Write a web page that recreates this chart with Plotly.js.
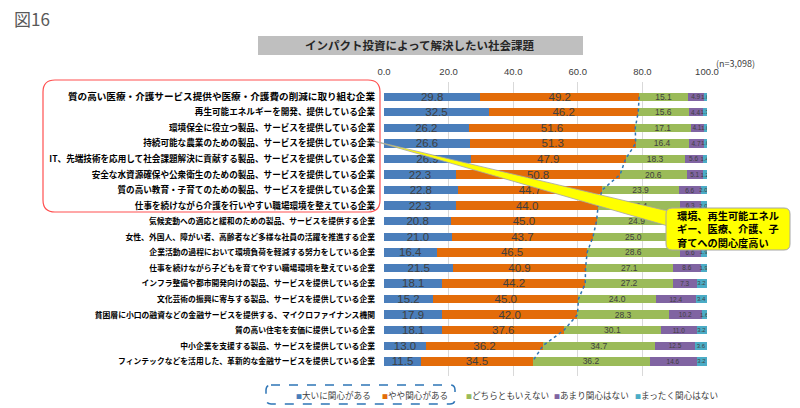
<!DOCTYPE html>
<html>
<head>
<meta charset="utf-8">
<script src="https://cdn.plot.ly/plotly-3.0.1.min.js"></script>
<style>
html,body{margin:0;padding:0;background:#fff;}
#chart{width:800px;height:408px;}
</style>
</head>
<body>
<div id="chart"></div>
<script>
// ---- data ----
const categories = [
  "質の高い医療・介護サービス提供や医療・介護費の削減に取り組む企業",
  "再生可能エネルギーを開発、提供している企業",
  "環境保全に役立つ製品、サービスを提供している企業",
  "持続可能な農業のための製品、サービスを提供している企業",
  "IT、先端技術を応用して社会課題解決に貢献する製品、サービスを提供している企業",
  "安全な水資源確保や公衆衛生のための製品、サービスを提供している企業",
  "質の高い教育・子育てのための製品、サービスを提供している企業",
  "仕事を続けながら介護を行いやすい職場環境を整えている企業",
  "気候変動への適応と緩和のための製品、サービスを提供する企業",
  "女性、外国人、障がい者、高齢者など多様な社員の活躍を推進する企業",
  "企業活動の過程において環境負荷を軽減する努力をしている企業",
  "仕事を続けながら子どもを育てやすい職場環境を整えている企業",
  "インフラ整備や都市開発向けの製品、サービスを提供している企業",
  "文化芸術の振興に寄与する製品、サービスを提供している企業",
  "貧困層に小口の融資などの金融サービスを提供する、マイクロファイナンス機関",
  "質の高い住宅を安価に提供している企業",
  "中小企業を支援する製品、サービスを提供している企業",
  "フィンテックなどを活用した、革新的な金融サービスを提供している企業"
];
const seriesNames = ["大いに関心がある","やや関心がある","どちらともいえない","あまり関心はない","まったく関心はない"];
const veryInterested     = [29.8,32.5,26.2,26.6,26.9,22.3,22.8,22.3,20.8,21.0,16.4,21.5,18.1,15.2,17.9,18.1,13.0,11.5];
const somewhatInterested = [49.2,46.2,51.6,51.3,47.9,50.8,44.7,44.0,45.0,43.7,46.5,40.9,44.2,45.0,42.0,37.6,36.2,34.5];
const neutral            = [15.1,15.6,17.1,16.4,18.3,20.6,23.9,25.4,24.9,25.0,28.6,27.1,27.2,24.0,28.3,30.1,34.7,36.2];
const notMuch            = [4.9,4.4,4.1,4.7,5.6,5.1,6.6,6.3,7.2,8.2,6.6,8.6,7.3,12.4,10.2,11.0,12.5,14.6];
const notAtAll           = [1.0,1.3,1.0,1.0,1.4,1.2,2.0,2.0,2.1,2.1,1.9,1.9,3.2,3.4,1.6,3.2,3.6,3.2];
const xTicks = [0,20,40,60,80,100];
const chartTitle = "インパクト投資によって解決したい社会課題";
const figLabel = "図16";
const nLabel = "(n=3,098)";
const calloutLines = ["環境、再生可能エネル","ギー、医療、介護、子","育てへの関心度高い"];
// rows whose right-hand labels sit under the callout box
const rowsUnderCallout = [8, 9];

// ---- styles ----
const colors = ["#4a7ebb","#e36c09","#9bbb59","#8064a2","#4bacc6"];
const textSizes = [11.5,11.5,8.5,6.5,6];
const JP = '"Noto Sans CJK JP", "Noto Sans", sans-serif';
const L = 384, R = 93, T = 82, B = 32, W = 800, H = 408;
const PW = W - L - R, PH = H - T - B;
const px = x => (x - L) / PW;
const py = y => (H - B - y) / PH;

function roundRect(x0, y0, x1, y1, r) {
  const P = (x, y) => px(x) + ',' + py(y);
  return 'M' + P(x0 + r, y0) + ' L' + P(x1 - r, y0) + ' Q' + P(x1, y0) + ' ' + P(x1, y0 + r) +
    ' L' + P(x1, y1 - r) + ' Q' + P(x1, y1) + ' ' + P(x1 - r, y1) +
    ' L' + P(x0 + r, y1) + ' Q' + P(x0, y1) + ' ' + P(x0, y1 - r) +
    ' L' + P(x0, y0 + r) + ' Q' + P(x0, y0) + ' ' + P(x0 + r, y0) + ' Z';
}

const seriesValues = [veryInterested, somewhatInterested, neutral, notMuch, notAtAll];
const traces = seriesValues.map((vals, i) => ({
  type: 'bar',
  orientation: 'h',
  name: seriesNames[i],
  y: categories,
  x: vals,
  marker: {color: colors[i], line: {width: 0}},
  text: vals.map((v, r) => (i >= 3 && rowsUnderCallout.includes(r)) ? '' : v.toFixed(1)),
  textposition: 'inside',
  insidetextanchor: 'middle',
  constraintext: 'none',
  textangle: 0,
  textfont: {size: textSizes[i], color: '#404040', family: '"Liberation Sans", Arial, sans-serif'},
  hoverinfo: 'x+name',
  showlegend: false
}));

// cumulative 大いに+やや line
traces.push({
  type: 'scatter',
  mode: 'lines',
  x: veryInterested.map((v, i) => v + somewhatInterested[i]),
  y: categories,
  line: {color: '#2e75b6', width: 1.5, dash: 'dot'},
  hoverinfo: 'skip',
  showlegend: false
});

const tickText = categories.map((c, i) => {
  const size = i === 0 ? 9.6 : (i < 8 ? 8.6 : 7.8);
  return '<span style="font-size:' + size + 'px"><b>' + c + '</b></span>';
});

const annotations = [
  {xref: 'paper', yref: 'paper', x: px(12), y: py(18), xanchor: 'left', yanchor: 'middle',
   text: figLabel, showarrow: false, font: {size: 17, color: '#595959', family: JP}},
  {xref: 'paper', yref: 'paper', x: px(420), y: py(45), xanchor: 'center', yanchor: 'middle',
   text: '<b>' + chartTitle + '</b>', showarrow: false, font: {size: 11.5, color: '#262626', family: JP}},
  {xref: 'paper', yref: 'paper', x: px(735), y: py(64), xanchor: 'center', yanchor: 'middle',
   text: nLabel, showarrow: false, font: {size: 9, color: '#404040', family: JP}},
  {xref: 'paper', yref: 'paper', x: px(728), y: py(229), xanchor: 'center', yanchor: 'middle', align: 'left',
   text: '<b>' + calloutLines.join('<br>') + '</b>', showarrow: false, borderpad: 0,
   font: {size: 10.2, color: '#000', family: JP}}
];

const legendX = [294, 380, 464, 552, 633];
seriesNames.forEach((n, i) => {
  annotations.push({
    xref: 'paper', yref: 'paper', x: px(legendX[i]), y: py(395), xanchor: 'left', yanchor: 'middle',
    text: '<span style="color:' + colors[i] + ';font-size:6px">■</span>' + n,
    showarrow: false, font: {size: 8.6, color: '#404040', family: JP}
  });
});

const shapes = [
  // title box
  {type: 'rect', xref: 'paper', yref: 'paper', x0: px(258), x1: px(583), y0: py(36), y1: py(55),
   fillcolor: '#bfbfbf', line: {width: 0}, layer: 'below'},
  // red rounded box around first 8 labels
  {type: 'path', xref: 'paper', yref: 'paper', path: roundRect(43, 80, 380, 212, 12),
   line: {color: '#ff5050', width: 1.2}, fillcolor: 'rgba(0,0,0,0)'},
  // callout tail
  {type: 'path', xref: 'paper', yref: 'paper',
   path: 'M' + px(374) + ',' + py(141) + ' L' + px(668) + ',' + py(211) + ' L' + px(668) + ',' + py(226) + ' Z',
   fillcolor: '#ffff00', line: {color: '#a6a6a6', width: 0.8}},
  // callout box
  {type: 'path', xref: 'paper', yref: 'paper', path: roundRect(666, 208, 790, 250, 6),
   fillcolor: '#ffff00', line: {color: '#a6a6a6', width: 1}},
  // legend dashed box
  {type: 'path', xref: 'paper', yref: 'paper', path: roundRect(266, 385, 455, 404, 5),
   line: {color: '#2e75b6', width: 1.5, dash: 'dash'}, fillcolor: 'rgba(0,0,0,0)'}
];

const layout = {
  width: W, height: H,
  margin: {l: L, r: R, t: T, b: B, pad: 0},
  paper_bgcolor: '#fff', plot_bgcolor: '#fff',
  barmode: 'stack',
  bargap: 0.46,
  showlegend: false,
  font: {family: JP, color: '#000', size: 8.6},
  xaxis: {
    side: 'top', range: [0, 100], tickvals: xTicks, tickformat: '.1f',
    showgrid: true, gridcolor: '#d9d9d9', gridwidth: 1, zeroline: false,
    showline: false, ticks: '', ticklabelstandoff: 4,
    tickfont: {size: 9.5, color: '#404040', family: '"Liberation Sans", Arial, sans-serif'},
    fixedrange: true
  },
  yaxis: {
    type: 'category', autorange: 'reversed',
    tickvals: categories, ticktext: tickText,
    showgrid: false, zeroline: false, showline: false, ticks: '',
    ticklabelstandoff: 8,
    tickfont: {size: 8.6, color: '#000', family: JP},
    fixedrange: true
  },
  annotations: annotations,
  shapes: shapes
};

Plotly.newPlot('chart', traces, layout, {displayModeBar: false, staticPlot: true});
</script>
</body>
</html>
